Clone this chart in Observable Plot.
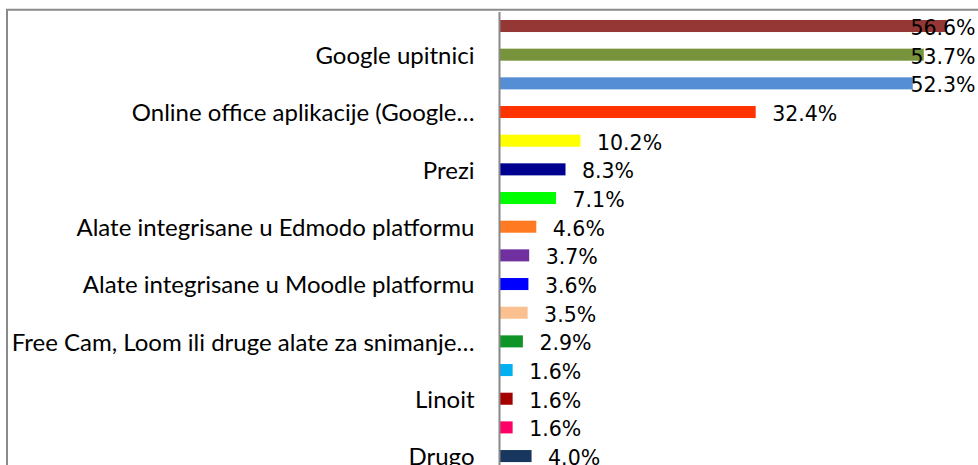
<!DOCTYPE html>
<html>
<head>
<meta charset="utf-8">
<script src="https://cdn.jsdelivr.net/npm/d3@7"></script>
<script src="https://cdn.jsdelivr.net/npm/@observablehq/plot@0.6"></script>
<style>
  html, body { margin: 0; padding: 0; background: #fff; }
  #chart svg { display: block; }
</style>
</head>
<body>
<div id="chart"></div>
<script>
// Bars, top to bottom
const categories = ["k01","k02","k03","k04","k05","k06","k07","k08","k09","k10","k11","k12","k13","k14","k15","k16"];
const values = [56.6, 53.7, 52.3, 32.4, 10.2, 8.3, 7.1, 4.6, 3.7, 3.6, 3.5, 2.9, 1.6, 1.6, 1.6, 4.0];
const colors = ["#953735","#77933C","#558ED5","#FF3300","#FFFF00","#000090","#00FF00","#FF7A20",
                "#7030A0","#0000FF","#FAC090","#0F9428","#00B0F0","#A50000","#FF0066","#17375E"];
// Only every other category label is shown
const tickKeys = ["k02","k04","k06","k08","k10","k12","k14","k16"];
const tickLabels = [
  "Google upitnici",
  "Online office aplikacije (Google…",
  "Prezi",
  "Alate integrisane u Edmodo platformu",
  "Alate integrisane u Moodle platformu",
  "Free Cam, Loom ili druge alate za snimanje…",
  "Linoit",
  "Drugo"
];

const rows = categories.map((k, i) => ({key: k, value: values[i], color: colors[i]}));

const W = 978, H = 465;
const chart = Plot.plot({
  width: W,
  height: H,
  marginLeft: 500,
  marginRight: 4.5,
  marginTop: 12,
  marginBottom: 0,
  style: {fontFamily: "Lato, sans-serif", fontSize: "24px", color: "#000", background: "#fff"},
  x: {domain: [0, 60], axis: null},
  y: {domain: categories, range: [11.67, 470.4], paddingInner: 0.58, paddingOuter: 0.29, round: false, label: null},
  color: {type: "identity"},
  marks: [
    Plot.barX(rows, {x: "value", y: "key", fill: "color"}),
    Plot.ruleX([0], {stroke: "#888", strokeWidth: 2, dx: -1}),
    Plot.axisY({ticks: tickKeys, tickFormat: k => tickLabels[tickKeys.indexOf(k)], tickSize: 0, tickPadding: 26, dy: 1, fill: "#000", fontSize: 24, fontFamily: "Lato, sans-serif"}),
    Plot.text(rows.filter(d => d.value < 50), {
      x: "value", y: "key", text: d => d.value.toFixed(1) + "%",
      textAnchor: "start", dx: 16, dy: 2, fill: "#000",
      fontFamily: "DejaVu Sans", fontSize: 20.5
    }),
    Plot.text(rows.filter(d => d.value >= 50), {
      y: "key", text: d => d.value.toFixed(1) + "%", frameAnchor: "right",
      textAnchor: "end", dx: 1.5, dy: 2, fill: "#000",
      fontFamily: "DejaVu Sans", fontSize: 20.5
    })
  ]
});

// chart-area border (cropped at right and bottom in the reference)
const svg = d3.select(chart);
svg.append("path")
  .attr("d", `M7,${H} V9.8 H${W}`)
  .attr("fill", "none")
  .attr("stroke", "#8a8a8a")
  .attr("stroke-width", 2);

document.getElementById("chart").appendChild(chart);
</script>
</body>
</html>
